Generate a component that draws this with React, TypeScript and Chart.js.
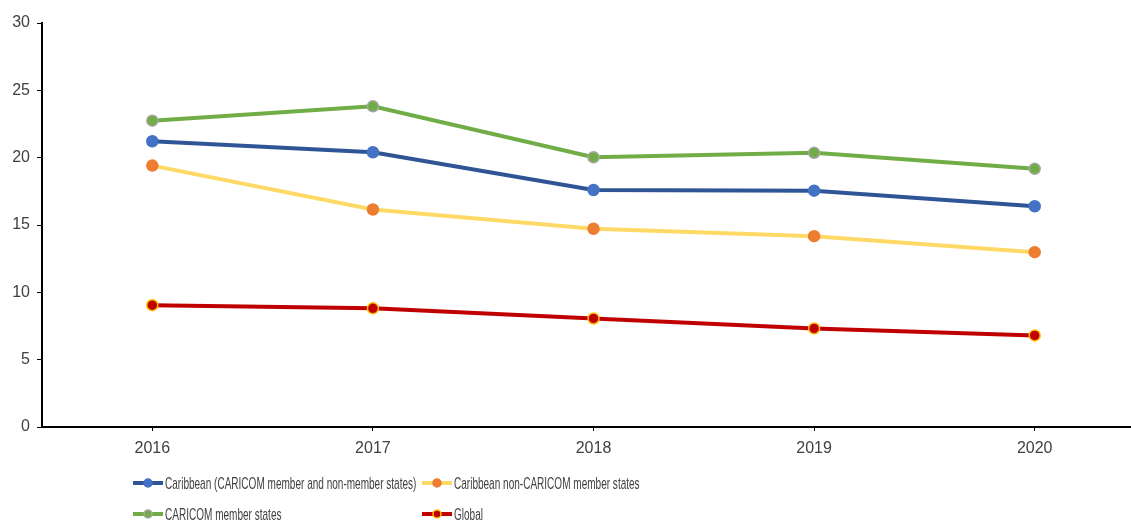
import React, { useEffect, useRef } from "react";
import { Chart, registerables } from "chart.js";

Chart.register(...registerables);

const years = ["2016", "2017", "2018", "2019", "2020"];
const caribbeanAll = [21.22, 20.4, 17.6, 17.55, 16.39];
const caribbeanNonCaricom = [19.41, 16.15, 14.72, 14.17, 12.98];
const caricomMembers = [22.75, 23.81, 20.03, 20.36, 19.17];
const globalValues = [9.05, 8.81, 8.06, 7.32, 6.8];
const yTicks = [0, 5, 10, 15, 20, 25, 30];

const seriesLabels = [
  "Caribbean (CARICOM member and non-member states)",
  "Caribbean non-CARICOM member states",
  "CARICOM member states",
  "Global",
];

const TEXT = "#404040";

const gridLegend = {
  id: "gridLegend",
  afterDraw(chart: any) {
    const ctx = chart.ctx as CanvasRenderingContext2D;
    const cols = [133, 422];
    const rows = [483, 514];
    chart.data.datasets.forEach((ds: any, i: number) => {
      const x = cols[i % 2];
      const y = rows[Math.floor(i / 2)];
      ctx.save();
      ctx.strokeStyle = ds.borderColor;
      ctx.lineWidth = 4;
      ctx.lineCap = "butt";
      ctx.beginPath();
      ctx.moveTo(x, y);
      ctx.lineTo(x + 30, y);
      ctx.stroke();
      ctx.beginPath();
      ctx.arc(x + 15, y, 4, 0, Math.PI * 2);
      ctx.fillStyle = ds.pointBackgroundColor;
      ctx.fill();
      ctx.lineWidth = 1.5;
      ctx.strokeStyle = ds.pointBorderColor;
      ctx.stroke();
      ctx.translate(x + 32, y + 1);
      ctx.scale(0.59, 1);
      ctx.font = "17px 'Liberation Sans', Arial, sans-serif";
      ctx.fillStyle = TEXT;
      ctx.textBaseline = "middle";
      ctx.textAlign = "left";
      ctx.fillText(ds.label, 0, 0);
      ctx.restore();
    });
  },
};

export default function App() {
  const ref = useRef<HTMLCanvasElement | null>(null);
  useEffect(() => {
    if (!ref.current) return;
    const mk = (label: string, data: number[], line: string, fill: string, border: string) => ({
      label,
      data,
      borderColor: line,
      backgroundColor: line,
      borderWidth: 4,
      pointRadius: 5.5,
      pointBackgroundColor: fill,
      pointBorderColor: border,
      pointBorderWidth: 1.5,
      tension: 0,
      fill: false,
    });
    const chart = new Chart(ref.current, {
      type: "line",
      data: {
        labels: years,
        datasets: [
          mk(seriesLabels[0], caribbeanAll, "#2F5597", "#4472C4", "#4472C4"),
          mk(seriesLabels[1], caribbeanNonCaricom, "#FFD966", "#ED7D31", "#ED7D31"),
          mk(seriesLabels[2], caricomMembers, "#70AD47", "#70AD47", "#A5A5A5"),
          mk(seriesLabels[3], globalValues, "#C00000", "#C00000", "#FFC000"),
        ],
      },
      options: {
        animation: false,
        responsive: true,
        maintainAspectRatio: false,
        layout: { padding: { top: 23, left: 0, right: 0, bottom: 0 } },
        plugins: { legend: { display: false }, tooltip: { enabled: false } },
        scales: {
          x: {
            type: "category",
            offset: true,
            afterFit: (s: any) => {
              s.height = 94;
            },
            grid: {
              display: true,
              drawOnChartArea: false,
              drawTicks: true,
              tickLength: 4,
              offset: false,
              color: "#000",
              lineWidth: 1,
            },
            border: { display: true, color: "#000", width: 2 },
            ticks: {
              color: TEXT,
              font: { family: "'Liberation Sans', Arial, sans-serif", size: 16 },
              padding: 8,
              maxRotation: 0,
            },
          },
          y: {
            min: 0,
            max: 30,
            afterFit: (s: any) => {
              s.width = 42;
            },
            afterBuildTicks: (s: any) => {
              s.ticks = yTicks.map((v) => ({ value: v }));
            },
            grid: {
              display: true,
              drawOnChartArea: false,
              drawTicks: true,
              tickLength: 5,
              color: "#000",
              lineWidth: 1,
            },
            border: { display: true, color: "#000", width: 2 },
            ticks: {
              color: TEXT,
              font: { family: "'Liberation Sans', Arial, sans-serif", size: 16 },
              padding: 7,
            },
          },
        },
      },
      plugins: [gridLegend],
    });
    return () => chart.destroy();
  }, []);
  return (
    <div style={{ position: "absolute", left: 0, top: 0, width: 1131, height: 521, overflow: "hidden", background: "#fff" }}>
      <div style={{ position: "relative", width: 1152, height: 521 }}>
        <canvas ref={ref} />
      </div>
    </div>
  );
}
